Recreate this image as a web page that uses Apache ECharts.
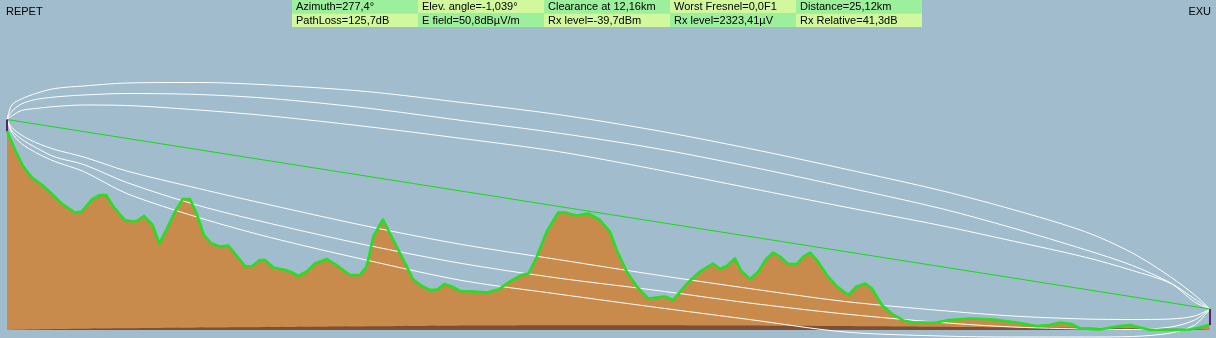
<!DOCTYPE html>
<html>
<head>
<meta charset="utf-8">
<script src="https://cdn.jsdelivr.net/npm/echarts@6/dist/echarts.min.js"></script>
<style>
html,body{margin:0;padding:0;background:#a0bccd;}
#chart{width:1216px;height:338px;}
</style>
</head>
<body>
<div id="chart"></div>
<script>
// ---- Data (distance in km, elevation in m) ----
var siteA = 'REPET';
var siteB = 'EXU';
var headerRow1 = ['Azimuth=277,4°', 'Elev. angle=-1,039°', 'Clearance at 12,16km', 'Worst Fresnel=0,0F1', 'Distance=25,12km'];
var headerRow2 = ['PathLoss=125,7dB', 'E field=50,8dBµV/m', 'Rx level=-39,7dBm', 'Rx level=2323,41µV', 'Rx Relative=41,3dB'];
var totalKm = 25.12;

var terrainKm = [0,0.17,0.34,0.52,0.76,0.93,1.14,1.42,1.56,1.77,
  1.94,2.07,2.22,2.46,2.64,2.72,2.86,3.04,3.18,3.34,
  3.51,3.67,3.82,3.96,4.11,4.27,4.45,4.62,4.76,4.97,
  5.11,5.28,5.39,5.56,5.81,5.95,6.08,6.26,6.43,6.68,
  6.88,7.16,7.37,7.51,7.65,7.85,8.03,8.21,8.35,8.48,
  8.66,8.83,8.99,9.13,9.29,9.46,9.74,10.02,10.26,10.50,
  10.75,10.89,11.06,11.27,11.51,11.65,11.90,12.14,12.38,12.59,
  12.73,12.94,13.15,13.39,13.57,13.74,13.91,14.19,14.47,14.74,
  14.89,15.03,15.20,15.34,15.52,15.69,15.86,16.00,16.14,16.31,
  16.49,16.63,16.77,16.91,17.12,17.33,17.57,17.74,17.92,18.06,
  18.27,18.47,18.72,18.92,19.41,19.66,20.11,20.60,21.08,21.50,
  21.78,21.99,22.23,22.41,22.82,23.24,23.45,23.66,23.87,24.29,
  24.70,24.91,25.09,25.12];
var terrainM = [398,360,327,305,288,273,253,235,237,261,
  270,270,247,220,217,219,228,210,173,203,
  237,262,262,233,190,173,167,169,153,128,
  127,140,140,125,120,115,108,117,133,142,
  130,110,110,127,187,221,187,153,127,101,
  88,80,81,92,87,78,77,75,81,97,
  110,113,146,197,235,235,229,233,220,197,
  160,117,87,63,65,67,60,92,117,133,
  122,128,143,117,102,117,143,155,147,132,
  132,147,155,140,110,87,70,87,93,83,
  50,33,19,15,15,20,23,21,15,8,
  10,15,12,3,1,8,10,5,0,0,
  1,5,10,10];

var bulgeKm = [0,1.1,3,5,7.8,10,12.5,15,17.3,20,21.5,23.5,24.8,25.12];
var bulgeM  = [0,2,4,5.5,7.5,9,9.5,9,8,6,5,3.5,1.5,0];

var antennaA = [398, 421];
var antennaB = [10, 42];

var lineKm = [0,0.1,0.3,0.6,1.0,1.6,2.5,4.0,5.5,7.5,9.5,11.5,13.5,15.5,17.5,19.5,21.0,22.5,23.5,24.3,24.8,25.12];
var upper3 = [421,450,462,473,483,488,494,495,490,477,455,431,400,363,322,279,241,197,154,106,70,42];
var upper2 = [421,437,452,461,466,470,473,471,463,444,419,394,364,327,286,243,204,161,129,94,62,42];
var upper1 = [421,428,439,443,447,450,449,440,428,407,383,357,322,284,246,209,178,146,119,93,56,42];
var lower1 = [421,405,390,375,361,346,318,283,250,208,171,141,111,83,57,39,28,22,21,22,28,42];
var lower2 = [421,399,382,365,346,331,295,249,213,170,133,104,80,54,32,15,6,2,1,6,20,42];
var lower3 = [421,395,373,355,337,317,273,225,185,140,99,72,46,21,-4,-12,-14,-14,-13,-6,10,42];

// ---- Build ----
function pairs(xs, ys){ return xs.map(function(x,i){ return [x, ys[i]]; }); }

var font = '11px "Liberation Sans", Arial, sans-serif';
var graphics = [];
var colW = 126, rowH = 13.5, tableX = 292;
[headerRow1, headerRow2].forEach(function(row, r){
  row.forEach(function(txt, c){
    graphics.push({type:'rect', silent:true, z:10,
      shape:{x: tableX + c*colW, y: r*rowH, width: colW, height: rowH},
      style:{fill: ((r+c)%2===0) ? '#9cf09c' : '#d2f89e'}});
    graphics.push({type:'text', silent:true, z:11,
      style:{text: txt, x: tableX + c*colW + 4, y: r*rowH + 7, verticalAlign:'middle',
             font: font, fill:'#000'}});
  });
});
graphics.push({type:'text', z:11, style:{text: siteA, x: 6, y: 12, verticalAlign:'middle', font: font, fill:'#000'}});
graphics.push({type:'text', z:11, style:{text: siteB, x: 1211, y: 12, align:'right', verticalAlign:'middle', font: font, fill:'#000'}});

function whiteLine(data){
  return {type:'line', data: pairs(lineKm, data), symbol:'none', smooth:0.3,
    lineStyle:{color:'#ffffff', width:1}, z:4, silent:true, animation:false};
}

var chart = echarts.init(document.getElementById('chart'), null, {renderer:'canvas'});
chart.setOption({
  animation:false,
  backgroundColor:'#a0bccd',
  grid:{left:7, right:6, top:0, bottom:0},
  xAxis:{type:'value', min:0, max:totalKm, show:false},
  yAxis:{type:'value', min:-16, max:660, show:false},
  graphic: graphics,
  series:[
    {type:'line', data: pairs(terrainKm, terrainM), symbol:'none',
     lineStyle:{width:0}, areaStyle:{color:'#c98b4b', opacity:1}, z:1, silent:true},
    {type:'line', data: pairs(bulgeKm, bulgeM), symbol:'none', smooth:true,
     lineStyle:{width:0}, areaStyle:{color:'#7b5037', opacity:1}, z:2, silent:true},
    whiteLine(upper3), whiteLine(upper2), whiteLine(upper1),
    whiteLine(lower1), whiteLine(lower2), whiteLine(lower3),
    {type:'line', data: pairs(terrainKm, terrainM), symbol:'none',
     lineStyle:{color:'#22e022', width:2.6, join:'round'}, z:5, silent:true},
    {type:'line', data: [[0, antennaA[1]], [totalKm, antennaB[1]]], symbol:'none',
     lineStyle:{color:'#14dc14', width:1}, z:6, silent:true},
    {type:'line', data: [[0, antennaA[0]], [0, antennaA[1]]], symbol:'none', clip:false,
     lineStyle:{color:'#5c2070', width:2}, z:7, silent:true},
    {type:'line', data: [[totalKm, antennaB[0]], [totalKm, antennaB[1]]], symbol:'none', clip:false,
     lineStyle:{color:'#5c2070', width:2}, z:7, silent:true}
  ]
});
</script>
</body>
</html>
